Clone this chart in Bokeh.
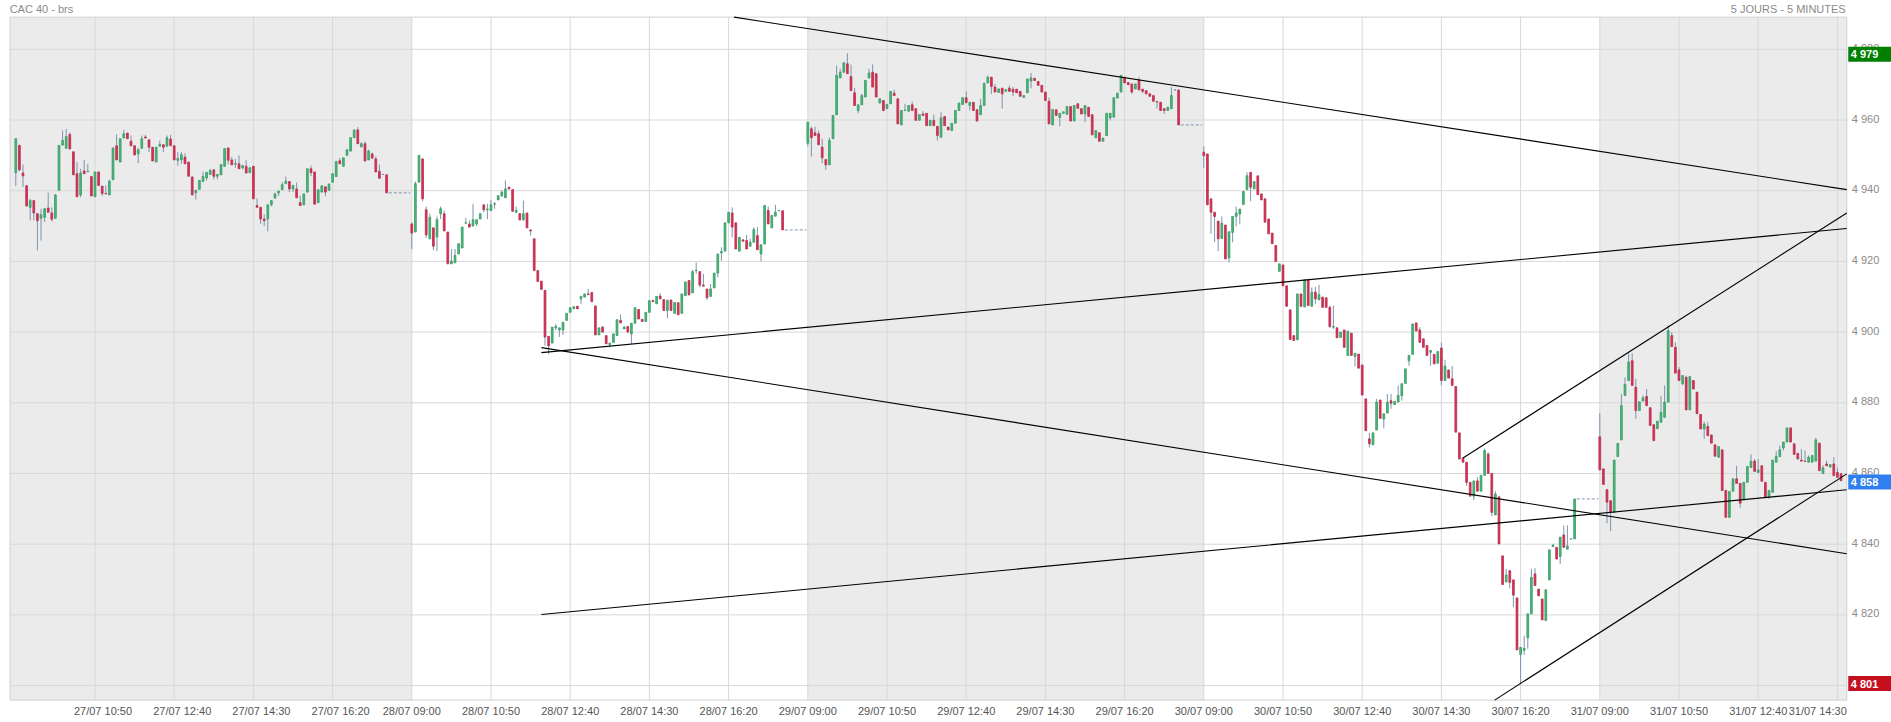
from bokeh.plotting import figure
from bokeh.core.properties import value
from bokeh.embed import file_html
from bokeh.resources import INLINE

TITLE_LEFT = "CAC 40 - brs"
TITLE_RIGHT = "5 JOURS - 5 MINUTES"
dates = ["27/07", "28/07", "29/07", "30/07", "31/07"]
label_times = ["09:00", "10:50", "12:40", "14:30", "16:20"]
price_ticks = [4800, 4820, 4840, 4860, 4880, 4900, 4920, 4940, 4960, 4980]
last_price = 4858
period_high = 4979
period_low = 4801

# 5-minute candles (open, high, low, close), one list per session
day1 = [
(4945.1,4954.7,4941.3,4954.7),(4952.8,4953.0,4945.5,4945.9),(4945.0,4947.4,4941.0,4944.2),(4941.4,4941.6,4935.5,4935.7),
(4935.3,4937.7,4931.6,4937.2),(4937.2,4937.4,4931.6,4933.7),(4933.5,4933.6,4923.1,4931.5),(4932.2,4934.9,4925.9,4933.2),
(4932.5,4935.0,4931.1,4934.9),(4935.1,4939.5,4933.8,4933.9),(4933.7,4935.3,4931.3,4931.9),(4932.2,4939.0,4932.0,4938.8),
(4940.1,4952.8,4940.1,4952.8),(4952.9,4957.0,4952.9,4954.2),(4952.0,4957.5,4952.0,4955.3),(4955.9,4956.5,4951.8,4951.8),
(4951.0,4951.0,4944.5,4944.5),(4944.8,4948.1,4938.3,4938.3),(4938.8,4946.2,4938.2,4945.0),(4945.6,4948.7,4944.8,4944.8),
(4945.4,4947.6,4945.2,4945.5),(4944.0,4944.0,4938.5,4938.5),(4938.3,4945.3,4938.3,4945.3),(4945.3,4945.3,4941.5,4941.5),
(4941.3,4941.3,4938.5,4939.2),(4939.2,4941.5,4939.0,4939.1),(4938.8,4943.1,4938.8,4942.7),(4943.1,4952.1,4943.1,4952.1),
(4952.7,4955.9,4948.7,4948.7),(4948.1,4954.7,4948.1,4954.7),(4954.9,4957.2,4954.9,4956.1),(4956.3,4956.3,4954.7,4954.7),
(4954.0,4955.6,4952.7,4952.7),(4952.7,4952.7,4950.1,4950.1),(4950.4,4952.1,4947.8,4951.6),(4952.0,4955.6,4951.8,4954.7),
(4955.2,4955.8,4954.9,4954.9),(4954.4,4954.4,4950.9,4952.3),(4952.3,4952.3,4948.4,4948.4),(4948.1,4952.3,4948.1,4952.3),
(4952.6,4954.2,4952.6,4953.1),(4953.0,4953.0,4950.9,4952.3),(4952.6,4955.6,4952.6,4955.0),(4954.6,4955.8,4952.5,4952.8),
(4952.7,4952.7,4948.7,4948.7),(4948.6,4950.9,4947.1,4949.1),(4948.7,4950.9,4947.6,4950.2),(4949.5,4950.6,4947.6,4947.6),
(4948.1,4948.1,4944.1,4944.1),(4943.9,4943.9,4938.8,4938.8),(4939.4,4940.1,4937.5,4940.1),(4940.4,4942.9,4940.4,4942.9),
(4942.6,4945.4,4942.6,4944.0),(4943.6,4945.2,4942.9,4945.2),(4944.6,4946.2,4944.6,4945.7),(4945.9,4945.9,4943.2,4944.1),
(4944.1,4944.6,4943.2,4944.6),(4944.5,4947.4,4944.5,4947.4),(4946.9,4951.9,4946.9,4951.9),(4952.1,4952.1,4947.4,4948.6),
(4948.7,4949.5,4947.3,4947.3),(4947.5,4949.0,4946.5,4947.7),(4947.6,4950.0,4946.2,4946.2),(4946.5,4947.1,4946.0,4947.1),
(4946.9,4948.6,4945.0,4945.0),(4945.1,4946.5,4945.1,4946.5),(4946.9,4946.9,4937.7,4937.7),(4935.8,4937.8,4935.3,4935.3),
(4935.3,4935.3,4930.6,4932.0),(4932.0,4933.3,4930.0,4931.5),(4932.0,4936.0,4928.5,4936.0),(4936.0,4937.2,4935.6,4937.2),
(4937.9,4939.4,4937.9,4939.1),(4939.4,4939.9,4938.5,4939.9),(4940.3,4942.4,4940.3,4941.7),(4942.0,4944.0,4942.0,4942.7),
(4942.6,4942.6,4939.6,4940.5),(4940.5,4941.5,4939.6,4941.5),(4940.5,4942.3,4938.0,4938.0),(4936.6,4938.6,4935.8,4935.8),
(4936.0,4939.1,4936.0,4939.1),(4939.6,4946.2,4939.6,4946.2),(4946.2,4947.1,4944.1,4945.1),(4945.3,4945.3,4936.2,4936.2),
(4936.6,4940.3,4936.6,4940.3),(4939.6,4941.4,4939.6,4941.4),(4941.1,4941.1,4938.4,4939.6),(4940.1,4941.9,4940.1,4941.9),
(4942.4,4944.8,4942.4,4944.8),(4944.0,4948.3,4944.0,4948.3),(4948.5,4949.3,4947.6,4947.6),(4946.9,4949.3,4946.9,4949.3),
(4950.0,4951.6,4950.0,4951.6),(4951.2,4955.0,4951.2,4955.0),(4955.0,4957.2,4955.0,4957.2),(4957.2,4958.0,4953.3,4953.3),
(4952.4,4953.7,4952.4,4953.3),(4953.3,4953.9,4948.4,4948.4),(4948.7,4951.6,4948.7,4951.2),(4950.4,4950.8,4949.2,4949.2),
(4949.0,4949.7,4945.3,4945.3),(4945.5,4947.4,4943.5,4943.5),(4944.6,4944.6,4944.6,4944.6),(4944.5,4944.5,4939.4,4939.4),
]
day2 = [
(4930.6,4931.1,4923.5,4928.0),(4928.3,4942.6,4928.3,4942.0),(4942.4,4950.0,4942.4,4950.0),(4949.0,4949.0,4937.0,4937.7),
(4934.6,4935.5,4926.6,4927.5),(4926.4,4933.5,4926.4,4932.5),(4929.5,4929.5,4923.1,4924.3),(4926.9,4932.7,4922.9,4931.8),
(4933.5,4935.5,4932.0,4934.9),(4933.5,4934.4,4928.6,4928.6),(4928.3,4928.3,4919.3,4919.3),(4919.3,4923.5,4919.3,4920.1),
(4919.6,4923.5,4919.6,4921.7),(4922.1,4925.0,4922.1,4925.0),(4923.8,4929.7,4923.8,4929.7),(4930.8,4932.3,4930.8,4930.9),
(4930.6,4931.6,4929.7,4929.7),(4930.0,4936.3,4930.0,4931.8),(4930.6,4931.8,4930.0,4931.8),(4932.0,4933.5,4932.0,4933.5),
(4936.0,4936.0,4933.9,4934.6),(4934.6,4936.3,4932.0,4934.8),(4934.4,4937.4,4934.4,4936.0),(4936.2,4936.8,4934.9,4936.3),
(4937.4,4938.6,4937.4,4938.6),(4938.6,4940.1,4938.2,4939.6),(4938.0,4942.9,4938.0,4940.5),(4941.0,4941.0,4940.5,4940.5),
(4940.3,4940.5,4934.0,4934.2),(4933.9,4935.5,4933.7,4934.4),(4933.5,4933.7,4931.5,4931.8),(4931.8,4937.2,4931.5,4933.5),
(4933.7,4933.7,4929.5,4929.5),(4928.9,4928.9,4927.3,4928.6),(4926.4,4926.4,4917.4,4917.4),(4917.4,4917.4,4914.3,4914.3),
(4914.4,4914.4,4912.1,4912.1),(4911.8,4911.8,4896.2,4898.6),(4898.8,4898.8,4893.8,4896.1),(4896.9,4901.4,4896.9,4901.4),
(4901.2,4902.3,4900.5,4901.6),(4900.6,4901.2,4898.6,4901.2),(4900.6,4902.8,4899.2,4902.8),(4903.3,4905.3,4903.3,4905.3),
(4905.6,4906.9,4905.6,4906.9),(4906.6,4907.2,4906.6,4907.2),(4907.3,4907.3,4906.6,4906.6),(4909.4,4910.1,4908.0,4910.1),
(4909.9,4910.8,4909.9,4910.8),(4910.8,4912.2,4910.6,4910.6),(4911.2,4911.2,4908.6,4908.6),(4907.4,4907.4,4899.2,4899.2),
(4899.2,4901.2,4899.2,4901.2),(4901.4,4901.7,4900.0,4900.0),(4899.0,4899.0,4896.7,4896.7),(4896.5,4896.9,4895.7,4896.9),
(4897.1,4899.5,4897.1,4899.5),(4899.0,4903.5,4899.0,4903.5),(4903.3,4905.0,4902.6,4902.6),(4900.9,4901.7,4900.9,4901.4),
(4901.6,4901.6,4900.0,4900.0),(4899.5,4902.5,4896.7,4902.5),(4902.5,4906.9,4902.5,4906.9),(4906.4,4906.4,4903.7,4903.7),
(4903.6,4903.6,4903.0,4903.0),(4903.0,4905.6,4903.0,4905.6),(4905.6,4908.9,4905.6,4908.9),(4908.9,4909.2,4908.6,4908.6),
(4908.0,4910.1,4908.0,4910.1),(4910.2,4911.0,4909.4,4909.4),(4909.2,4909.2,4906.1,4906.1),(4906.1,4909.0,4903.9,4909.0),
(4909.1,4909.1,4906.1,4906.1),(4905.3,4908.4,4905.3,4908.4),(4908.3,4908.3,4904.9,4904.9),(4905.3,4910.8,4905.3,4910.8),
(4910.3,4914.2,4910.3,4914.2),(4914.6,4914.6,4910.5,4910.5),(4911.1,4917.6,4911.1,4917.1),(4917.4,4919.7,4916.5,4917.5),
(4917.1,4917.1,4912.7,4913.3),(4913.3,4916.5,4913.0,4913.0),(4912.2,4912.2,4909.1,4909.7),(4910.1,4913.6,4910.1,4912.2),
(4912.5,4916.7,4912.5,4916.7),(4916.7,4922.1,4915.5,4922.1),(4922.4,4924.0,4920.2,4922.8),(4922.9,4930.9,4922.9,4930.9),
(4930.9,4933.9,4930.9,4933.9),(4933.7,4935.3,4926.8,4929.7),(4930.9,4930.9,4923.5,4923.5),(4922.9,4926.8,4922.9,4926.8),
(4926.1,4926.1,4925.7,4925.7),(4925.9,4927.5,4923.5,4923.5),(4924.3,4926.4,4924.3,4925.4),(4925.4,4929.7,4925.4,4929.0),
(4927.3,4929.7,4923.3,4923.3),(4922.1,4924.7,4920.0,4924.7),(4924.9,4935.8,4924.9,4935.8),(4934.4,4935.5,4930.6,4930.6),
(4929.5,4933.0,4929.5,4933.0),(4932.8,4936.0,4932.8,4933.9),(4934.3,4934.4,4934.3,4934.4),(4934.3,4934.3,4928.9,4928.9),
]
day3 = [
(4953.4,4959.4,4952.5,4959.4),(4957.5,4958.1,4949.7,4955.0),(4956.4,4958.1,4955.6,4955.6),(4956.1,4957.0,4953.0,4953.0),
(4952.3,4954.7,4947.8,4949.3),(4948.8,4948.8,4945.9,4947.3),(4947.3,4955.0,4947.3,4954.2),(4954.7,4961.3,4954.7,4961.3),
(4961.5,4975.4,4961.5,4972.6),(4971.9,4974.5,4971.9,4973.5),(4973.5,4976.2,4973.5,4976.2),(4975.9,4978.9,4973.1,4973.1),
(4972.3,4975.7,4968.3,4968.3),(4967.7,4969.1,4964.1,4964.1),(4962.7,4964.3,4961.9,4964.3),(4964.3,4967.4,4964.3,4966.9),
(4966.5,4971.2,4966.5,4971.2),(4971.9,4974.5,4971.9,4973.3),(4973.5,4975.7,4969.3,4969.3),(4973.1,4973.1,4966.5,4966.5),
(4964.8,4966.0,4964.8,4966.0),(4965.5,4965.5,4962.5,4962.7),(4963.2,4964.4,4963.2,4964.4),(4964.6,4968.1,4964.6,4968.1),
(4967.6,4968.6,4966.9,4966.9),(4966.0,4966.0,4958.9,4958.9),(4958.6,4962.7,4958.6,4962.7),(4962.7,4964.6,4962.5,4962.8),
(4962.5,4964.1,4962.5,4964.1),(4964.3,4965.2,4962.7,4962.7),(4963.2,4963.2,4959.9,4959.9),(4959.9,4961.5,4959.9,4961.5),
(4961.7,4962.5,4961.3,4961.3),(4961.9,4961.9,4958.4,4958.4),(4958.4,4959.9,4958.4,4959.9),(4959.9,4961.5,4958.4,4958.4),
(4958.2,4958.2,4954.2,4955.6),(4955.1,4962.2,4955.1,4960.6),(4961.0,4961.0,4958.4,4958.4),(4958.0,4958.0,4957.2,4957.2),
(4957.0,4959.1,4957.0,4959.1),(4959.1,4962.7,4959.1,4962.7),(4962.7,4964.8,4962.7,4964.8),(4964.4,4966.3,4964.4,4966.3),
(4966.3,4968.1,4964.9,4964.9),(4964.1,4965.0,4962.7,4965.0),(4965.0,4965.0,4962.7,4962.7),(4962.9,4962.9,4959.7,4959.7),
(4961.5,4966.0,4961.5,4964.1),(4964.1,4970.4,4964.1,4970.4),(4970.5,4972.6,4970.5,4972.1),(4972.1,4972.1,4967.4,4969.5),
(4969.3,4970.2,4967.9,4967.9),(4967.8,4968.8,4967.8,4968.8),(4969.0,4969.0,4963.2,4967.4),(4968.1,4968.6,4968.1,4968.6),
(4969.0,4969.8,4968.1,4968.1),(4968.7,4969.3,4966.7,4967.9),(4968.7,4968.7,4967.7,4967.7),(4968.1,4968.1,4966.7,4966.7),
(4966.4,4966.9,4966.4,4966.9),(4967.7,4971.6,4967.7,4971.6),(4971.0,4973.3,4969.0,4971.9),(4971.8,4971.8,4971.2,4971.2),
(4970.9,4970.9,4969.8,4969.8),(4969.8,4969.8,4967.9,4967.9),(4967.9,4967.9,4965.5,4965.5),(4965.3,4966.3,4958.9,4958.9),
(4958.6,4963.0,4958.6,4963.0),(4962.9,4962.9,4961.3,4961.3),(4960.7,4961.9,4958.2,4961.9),(4961.9,4962.3,4961.9,4962.3),
(4961.6,4963.8,4961.6,4963.8),(4963.8,4963.8,4959.7,4959.7),(4959.7,4964.1,4959.7,4964.1),(4964.6,4964.6,4963.3,4963.3),
(4963.2,4963.2,4961.7,4961.7),(4961.7,4964.1,4959.4,4964.1),(4963.6,4963.6,4961.0,4961.0),(4961.5,4961.5,4955.8,4955.8),
(4955.0,4957.0,4955.0,4957.0),(4956.4,4956.4,4954.0,4954.0),(4954.0,4954.9,4954.0,4954.9),(4955.6,4961.9,4955.6,4961.9),
(4960.6,4961.9,4959.9,4961.9),(4960.8,4966.3,4960.8,4966.3),(4966.2,4967.6,4966.2,4967.6),(4967.9,4972.6,4967.9,4972.6),
(4972.1,4972.1,4970.5,4970.5),(4970.6,4970.6,4970.0,4970.0),(4970.2,4970.2,4967.4,4967.9),(4968.8,4970.2,4968.8,4970.2),
(4971.2,4972.1,4968.5,4968.5),(4968.7,4968.7,4967.6,4968.1),(4968.3,4968.3,4967.4,4967.4),(4967.4,4967.4,4966.7,4966.7),
(4966.9,4966.9,4965.3,4965.3),(4965.2,4965.2,4963.2,4965.1),(4965.0,4965.0,4962.7,4962.7),(4963.2,4963.2,4961.7,4962.7),
(4962.7,4963.6,4962.7,4963.6),(4963.2,4969.3,4963.2,4966.9),(4968.5,4968.5,4968.5,4968.5),(4968.5,4968.5,4958.6,4958.6),
]
day4 = [
(4950.9,4952.5,4946.5,4949.9),(4950.4,4950.4,4936.0,4936.0),(4937.7,4937.7,4927.8,4933.9),(4933.9,4933.9,4925.4,4932.7),
(4931.4,4931.4,4922.9,4926.4),(4926.5,4932.7,4926.5,4930.8),(4930.3,4930.3,4920.7,4920.7),(4921.0,4928.4,4919.7,4928.4),
(4928.2,4932.7,4925.4,4932.7),(4932.7,4935.5,4929.9,4933.7),(4933.4,4934.8,4930.5,4934.8),(4936.1,4939.8,4936.1,4939.8),
(4940.3,4945.2,4940.3,4944.2),(4945.2,4945.2,4937.0,4941.0),(4940.5,4942.6,4940.5,4942.6),(4944.2,4944.2,4938.9,4938.9),
(4939.1,4939.1,4937.4,4937.4),(4937.7,4937.7,4931.1,4931.1),(4932.0,4932.0,4927.8,4927.8),(4928.0,4928.0,4925.0,4925.0),
(4924.5,4924.5,4920.0,4920.0),(4917.2,4919.3,4917.2,4919.3),(4919.0,4919.0,4913.1,4913.1),(4913.1,4913.1,4907.3,4907.3),
(4906.3,4906.3,4897.9,4897.9),(4899.0,4899.0,4897.6,4897.6),(4897.9,4910.8,4897.6,4910.8),(4910.8,4910.8,4907.3,4907.3),
(4907.1,4914.8,4907.1,4914.8),(4914.8,4914.8,4907.5,4907.5),(4907.3,4912.6,4907.3,4911.3),(4911.3,4912.8,4908.0,4909.4),
(4909.1,4913.4,4909.1,4910.6),(4909.9,4909.9,4907.0,4907.0),(4909.7,4909.7,4907.0,4907.0),(4907.0,4907.5,4901.2,4901.6),
(4901.4,4907.5,4900.9,4901.6),(4901.2,4901.2,4898.4,4898.4),(4898.5,4900.0,4898.5,4900.0),(4900.6,4900.6,4895.7,4895.7),
(4893.4,4900.3,4893.4,4900.3),(4899.7,4899.7,4893.4,4893.4),(4893.1,4894.0,4890.3,4894.0),(4893.8,4893.8,4889.8,4889.8),
(4890.7,4890.7,4882.2,4882.2),(4881.1,4881.1,4872.1,4872.1),(4869.8,4871.5,4867.4,4868.4),(4868.1,4871.5,4868.1,4871.5),
(4872.3,4881.1,4872.3,4880.2),(4880.8,4880.8,4875.6,4875.6),(4875.4,4876.9,4872.8,4876.9),(4877.1,4882.5,4877.1,4880.2),
(4880.6,4882.5,4878.3,4879.9),(4879.5,4880.4,4879.5,4880.4),(4880.2,4884.9,4880.2,4882.1),(4882.0,4885.4,4880.6,4885.4),
(4885.5,4889.6,4885.5,4889.6),(4891.9,4893.4,4890.5,4893.4),(4893.7,4902.3,4893.7,4902.3),(4902.6,4902.6,4900.3,4900.3),
(4900.6,4901.4,4897.1,4897.1),(4898.1,4898.1,4895.7,4895.7),(4896.2,4896.2,4893.4,4893.4),(4894.3,4894.8,4890.5,4894.8),
(4893.7,4893.7,4891.0,4891.0),(4891.2,4894.5,4891.2,4894.5),(4895.5,4897.1,4884.9,4886.3),(4886.3,4892.2,4886.3,4890.4),
(4889.3,4889.3,4887.0,4887.0),(4886.8,4890.4,4884.9,4884.9),(4884.6,4884.6,4871.7,4871.7),(4871.5,4871.5,4864.1,4864.1),
(4864.4,4864.4,4863.2,4863.2),(4863.2,4863.2,4856.5,4857.5),(4857.5,4857.5,4853.6,4853.6),(4853.6,4857.9,4852.5,4857.9),
(4857.9,4859.0,4855.0,4855.0),(4855.0,4859.5,4855.0,4859.5),(4859.5,4867.0,4859.5,4866.5),(4865.5,4866.0,4860.0,4860.0),
(4860.0,4860.0,4848.0,4849.0),(4848.3,4855.0,4848.3,4854.2),(4853.4,4853.4,4840.1,4840.1),(4836.7,4836.7,4828.6,4828.6),
(4829.3,4833.0,4829.3,4831.3),(4832.5,4832.5,4827.5,4829.2),(4829.9,4829.9,4822.2,4825.6),(4824.8,4824.8,4810.1,4810.1),
(4808.8,4810.8,4800.4,4810.8),(4810.0,4814.1,4808.7,4810.5),(4813.5,4820.3,4810.4,4820.3),(4820.3,4833.0,4820.3,4830.6),
(4831.6,4833.2,4828.3,4828.3),(4827.3,4827.3,4825.4,4825.4),(4824.5,4824.5,4818.6,4818.6),(4818.4,4827.1,4818.4,4827.1),
(4829.9,4838.4,4829.9,4838.4),(4839.3,4840.1,4839.3,4839.7),(4839.1,4839.1,4835.8,4835.8),(4836.5,4842.0,4834.4,4842.0),
(4842.6,4845.3,4839.1,4839.1),(4838.6,4845.3,4838.6,4839.5),(4841.5,4841.5,4841.5,4841.5),(4841.5,4852.8,4841.5,4852.8),
]
day5 = [
(4870.4,4877.1,4861.0,4861.0),(4861.3,4861.3,4856.9,4856.9),(4855.4,4855.4,4845.9,4851.9),(4852.3,4852.3,4843.7,4849.0),
(4849.0,4863.8,4849.0,4863.8),(4864.8,4868.5,4864.8,4868.5),(4869.5,4882.5,4869.5,4879.2),(4882.1,4887.2,4882.1,4885.2),
(4886.3,4894.0,4886.3,4891.5),(4891.9,4894.0,4884.9,4884.9),(4884.4,4886.8,4875.5,4877.8),(4877.8,4880.3,4877.8,4880.3),
(4880.5,4882.1,4880.5,4881.4),(4881.8,4883.9,4879.2,4879.2),(4878.6,4878.6,4873.6,4873.6),(4873.8,4873.8,4869.3,4869.3),
(4872.7,4874.8,4872.7,4874.8),(4874.5,4882.0,4874.5,4877.3),(4875.9,4884.9,4875.9,4880.2),(4880.2,4901.9,4880.2,4900.4),
(4899.0,4900.0,4895.9,4895.9),(4895.7,4897.1,4888.4,4888.4),(4889.3,4890.1,4886.3,4886.3),(4885.4,4887.7,4885.0,4887.7),
(4887.2,4887.7,4878.0,4878.0),(4878.0,4887.4,4878.0,4887.4),(4886.3,4886.3,4883.9,4883.9),(4883.0,4883.0,4876.9,4876.9),
(4876.7,4876.7,4872.6,4872.6),(4872.6,4874.7,4869.8,4874.0),(4873.3,4874.5,4870.7,4870.7),(4870.9,4870.9,4868.6,4868.6),
(4868.1,4868.1,4864.9,4864.9),(4864.6,4867.6,4864.6,4867.6),(4866.7,4866.7,4855.2,4855.2),(4855.2,4855.2,4847.6,4847.6),
(4847.6,4854.9,4847.6,4854.9),(4855.0,4858.5,4855.0,4858.5),(4858.5,4862.2,4857.2,4857.2),(4857.2,4857.2,4850.3,4851.6),
(4852.5,4857.5,4852.5,4857.5),(4857.5,4862.0,4857.5,4862.0),(4861.7,4865.4,4861.7,4863.5),(4863.5,4864.1,4860.6,4860.6),
(4860.3,4864.1,4860.3,4861.0),(4862.2,4862.2,4857.8,4857.8),(4857.5,4857.5,4853.3,4853.3),(4853.1,4855.2,4853.1,4855.2),
(4854.7,4863.8,4854.7,4863.8),(4863.2,4866.3,4863.2,4864.8),(4864.8,4867.9,4864.8,4866.7),(4867.2,4868.9,4866.5,4868.9),
(4868.9,4872.9,4868.9,4872.9),(4872.9,4872.9,4868.9,4868.9),(4868.4,4868.4,4865.4,4865.4),(4865.7,4865.7,4864.1,4864.1),
(4863.8,4866.9,4863.5,4863.5),(4863.5,4866.5,4863.4,4863.4),(4863.2,4865.1,4863.2,4864.6),(4863.2,4865.1,4863.2,4865.1),
(4863.5,4870.1,4863.5,4869.5),(4868.6,4868.6,4860.8,4860.8),(4860.0,4862.3,4860.0,4861.6),(4862.7,4863.6,4862.2,4862.2),
(4861.8,4862.5,4861.8,4862.5),(4862.7,4864.6,4859.4,4859.4),(4860.3,4861.7,4858.9,4858.9),(4859.9,4860.0,4857.8,4858.0),
]
sessions = [day1, day2, day3, day4, day5]

# hand-drawn trend lines: (bar index, price) -> (bar index, price)
trend_x0 = [199.5, 146, 146, 146, 402, 410.8]
trend_y0 = [4989.1, 4894.2, 4895.6, 4820.1, 4864.4, 4795.9]
trend_x1 = [508.6, 508.6, 508.6, 508.6, 508.6, 508.6]
trend_y1 = [4940.3, 4929.3, 4837.3, 4855.4, 4933.7, 4859.9]

# ---------------- layout constants (bar-index / price space) ----------------
W, H = 1891, 722
BARS_PER_SESSION = 110
BARS_PER_LABEL = 22
PX_BAR = 3.6          # pixels per 5-minute bar
PX_PT = 3.535         # pixels per index point
X_START = -15.3 / PX_BAR
X_END = X_START + W / PX_BAR
Y_END = 4980 + 48.8 / PX_PT
Y_START = Y_END - H / PX_PT
PL, PR = -1.6, 508.6          # plot area left/right (bars)
PB, PT = 4795.9, 4989.1       # plot area bottom/top (points)
FONT = value("Liberation Sans")

def fmt(v):
    return f"{v // 1000} {v % 1000:03d}"

xs, opens, highs, lows, closes = [], [], [], [], []
after_x0, after_x1, after_y = [], [], []
for d, rows in enumerate(sessions):
    for i, (o, h, l, c) in enumerate(rows):
        xs.append(d * BARS_PER_SESSION + i)
        opens.append(o); highs.append(h); lows.append(l); closes.append(c)
    if d < len(sessions) - 1:
        n = len(rows)
        after_x0.append(d * BARS_PER_SESSION + n - 0.4)
        after_x1.append((d + 1) * BARS_PER_SESSION - 0.4)
        after_y.append(rows[-1][3])

up = [i for i in range(len(xs)) if closes[i] > opens[i]]
dn = [i for i in range(len(xs)) if closes[i] < opens[i]]
fl = [i for i in range(len(xs)) if closes[i] == opens[i]]

p = figure(width=W, height=H, x_range=(X_START, X_END), y_range=(Y_START, Y_END),
           output_backend="svg", toolbar_location=None,
           x_axis_location=None, y_axis_location=None, min_border=0)
p.background_fill_color = "white"
p.border_fill_color = "white"
p.outline_line_color = None
p.xgrid.visible = False
p.ygrid.visible = False

# alternate session shading
p.quad(left=[PL, 2 * BARS_PER_SESSION, 4 * BARS_PER_SESSION],
       right=[BARS_PER_SESSION, 3 * BARS_PER_SESSION, PR],
       bottom=PB, top=PT, fill_color="#ebebeb", line_color=None)

# grid
GRID = "#d8d8d8"
grid_x = list(range(BARS_PER_LABEL, int(PR) + 1, BARS_PER_LABEL))
p.segment(x0=grid_x, y0=PB, x1=grid_x, y1=PT, line_color=GRID, line_width=1)
p.segment(x0=PL, y0=price_ticks, x1=PR, y1=price_ticks, line_color=GRID, line_width=1)
# plot-area border
p.segment(x0=[PL, PR, PL, PL], y0=[PB, PB, PB, PT], x1=[PL, PR, PR, PR], y1=[PT, PT, PB, PT],
          line_color="#d0d0d0", line_width=1)

# candles
WICK = "#7d93b0"
p.segment(x0=xs, y0=highs, x1=xs, y1=lows, line_color=WICK, line_width=1)
p.segment(x0=after_x0, y0=after_y, x1=after_x1, y1=after_y, line_color=WICK, line_width=1, line_dash="3 2")
p.vbar(x=[xs[i] for i in up], width=0.5, bottom=[opens[i] for i in up], top=[closes[i] for i in up],
       fill_color="#46b978", line_color="#3a9c66", line_width=0.8)
p.vbar(x=[xs[i] for i in dn], width=0.5, bottom=[closes[i] for i in dn], top=[opens[i] for i in dn],
       fill_color="#e42a55", line_color="#b3334f", line_width=0.8)
p.vbar(x=[xs[i] for i in fl], width=0.6, bottom=[opens[i] for i in fl], top=[closes[i] for i in fl],
       fill_color=WICK, line_color=WICK, line_width=1)

# trend lines
p.segment(x0=trend_x0, y0=trend_y0, x1=trend_x1, y1=trend_y1, line_color="black", line_width=1.1)

# right price scale labels
p.text(x=PR + 5 / PX_BAR, y=[t + 1.5 / PX_PT for t in price_ticks], text=[fmt(t) for t in price_ticks],
       text_align="left", text_baseline="middle", text_font=FONT, text_font_size=value("11px"),
       text_color="#8a8a8a")

# time labels under the plot
lab_x, lab_t, lab_a = [], [], []
for d, date in enumerate(dates):
    for k, t in enumerate(label_times):
        idx = d * BARS_PER_SESSION + k * BARS_PER_LABEL
        if idx <= 0 or idx > PR:
            continue
        shift = 8 / PX_BAR if d == 0 else 0.0
        if idx + 29 / PX_BAR > PR:
            lab_x.append(PR); lab_a.append("right")
        else:
            lab_x.append(idx + shift); lab_a.append("center")
        lab_t.append(f"{date} {t}")
p.text(x=lab_x, y=PB - 10.5 / PX_PT, text=lab_t, text_align=lab_a, text_baseline="middle",
       text_font=FONT, text_font_size=value("11px"), text_color="#555555")

# header texts
p.text(x=[PL - 0.1], y=[Y_END - 8 / PX_PT], text=[TITLE_LEFT], text_align="left", text_baseline="middle",
       text_font=FONT, text_font_size=value("11px"), text_color="#8a8a8a")
p.text(x=[PR - 0.3], y=[Y_END - 8 / PX_PT], text=[TITLE_RIGHT], text_align="right", text_baseline="middle",
       text_font=FONT, text_font_size=value("11px"), text_color="#8a8a8a")

# highlighted price boxes: period high, last price, period low
box_vals = [period_high, last_price, period_low]
box_cols = ["#008000", "#2f7ff0", "#c40f1f"]
half = 7.5 / PX_PT
drop = 1.5 / PX_PT
p.quad(left=PR + 1.5 / PX_BAR, right=X_END, bottom=[v - drop - half for v in box_vals],
       top=[v - drop + half for v in box_vals], fill_color=box_cols, line_color=None)
p.text(x=PR + 4 / PX_BAR, y=[v - drop for v in box_vals], text=[fmt(v) for v in box_vals], text_align="left",
       text_baseline="middle", text_font=FONT, text_font_size=value("11px"), text_font_style="bold",
       text_color="white")

open("out.html", "w").write(file_html(p, INLINE))
